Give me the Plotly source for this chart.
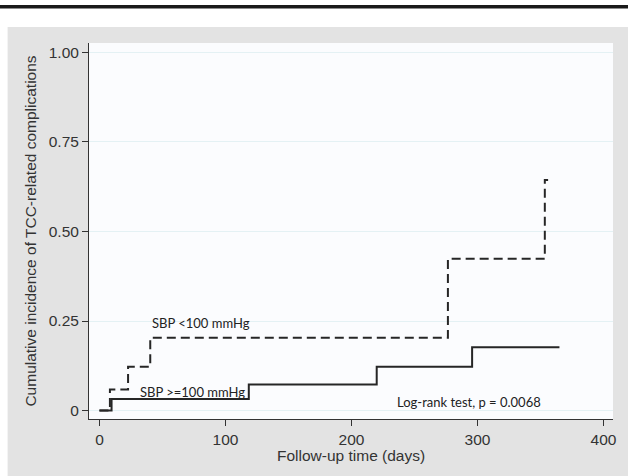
import plotly.graph_objects as go

# Data
low_sbp_time = [0, 8.3, 22.7, 40.3, 276.5, 353.4, 356]
low_sbp_ci = [0, 0.059, 0.122, 0.203, 0.424, 0.644, 0.644]
high_sbp_time = [0, 9.6, 118.5, 220, 295.7, 365]
high_sbp_ci = [0, 0.032, 0.073, 0.122, 0.177, 0.177]

x_ticks = [0, 100, 200, 300, 400]
y_ticks = [0, 0.25, 0.5, 0.75, 1.0]
y_tick_labels = ["0", "0.25", "0.50", "0.75", "1.00"]

LINE = "#262626"
GRAY = "#e3e3e3"

fig = go.Figure()
fig.add_trace(go.Scatter(x=low_sbp_time, y=low_sbp_ci, mode="lines", line_shape="hv",
                         line=dict(color=LINE, width=2, dash="9px,5px"), name="SBP <100 mmHg"))
fig.add_trace(go.Scatter(x=high_sbp_time, y=high_sbp_ci, mode="lines", line_shape="hv",
                         line=dict(color=LINE, width=2), name="SBP >=100 mmHg"))

ann_font = dict(family="Lato, Carlito, sans-serif", size=13, color="#222222")
fig.add_annotation(x=80.7, y=0.244, text="SBP <100 mmHg", showarrow=False, font=ann_font)
fig.add_annotation(x=74, y=0.052, text="SBP >=100 mmHg", showarrow=False, font=ann_font)
fig.add_annotation(x=293.3, y=0.024, text="Log-rank test, p = 0.0068", showarrow=False, font=ann_font)

font_ax = dict(family="Liberation Sans, Arial, sans-serif", size=15.5, color="#333333")

# x-axis title placed as paper annotation to match the reference position
fig.add_annotation(xref="paper", yref="paper", x=0.5, y=-0.098, yanchor="middle",
                   text="Follow-up time (days)", showarrow=False, font=font_ax)

# decorative frame: white strip on top with black bar, white strip on left
fig.add_shape(type="rect", xref="paper", yref="paper", x0=-0.2, x1=1.05, y0=1.0426, y1=1.2,
              fillcolor="white", line_width=0, layer="below")
fig.add_shape(type="rect", xref="paper", yref="paper", x0=-0.2, x1=-0.1553, y0=-0.2, y1=1.2,
              fillcolor="white", line_width=0, layer="below")
fig.add_shape(type="rect", xref="paper", yref="paper", x0=-0.2, x1=1.05, y0=1.0918, y1=1.1011,
              fillcolor="#1a1a1a", line_width=0, layer="below")

fig.update_layout(
    width=628, height=476,
    margin=dict(l=89, r=11, t=43, b=57),
    paper_bgcolor=GRAY, plot_bgcolor="#fbfcfe",
    showlegend=False,
    font=font_ax,
    xaxis=dict(range=[-8.3, 407.5], tickvals=x_ticks, ticks="outside", ticklen=6,
               tickcolor="#333333", showline=True, linecolor="#333333", linewidth=1,
               showgrid=False, zeroline=False, ticklabelstandoff=0,
               tickfont=font_ax),
    yaxis=dict(range=[-0.0237, 1.0265], tickvals=y_ticks, ticktext=y_tick_labels,
               ticks="outside", ticklen=6, tickcolor="#333333", showline=True,
               linecolor="#333333", linewidth=1, showgrid=True, gridcolor="#e4f1f4",
               gridwidth=1, zeroline=False,
               title=dict(text="Cumulative incidence of TCC-related complications",
                          standoff=8, font=font_ax),
               tickfont=font_ax),
)

fig.write_html("out.html", config={"displayModeBar": False},
               post_script="document.body.style.margin='0px';document.body.style.overflow='hidden';")
